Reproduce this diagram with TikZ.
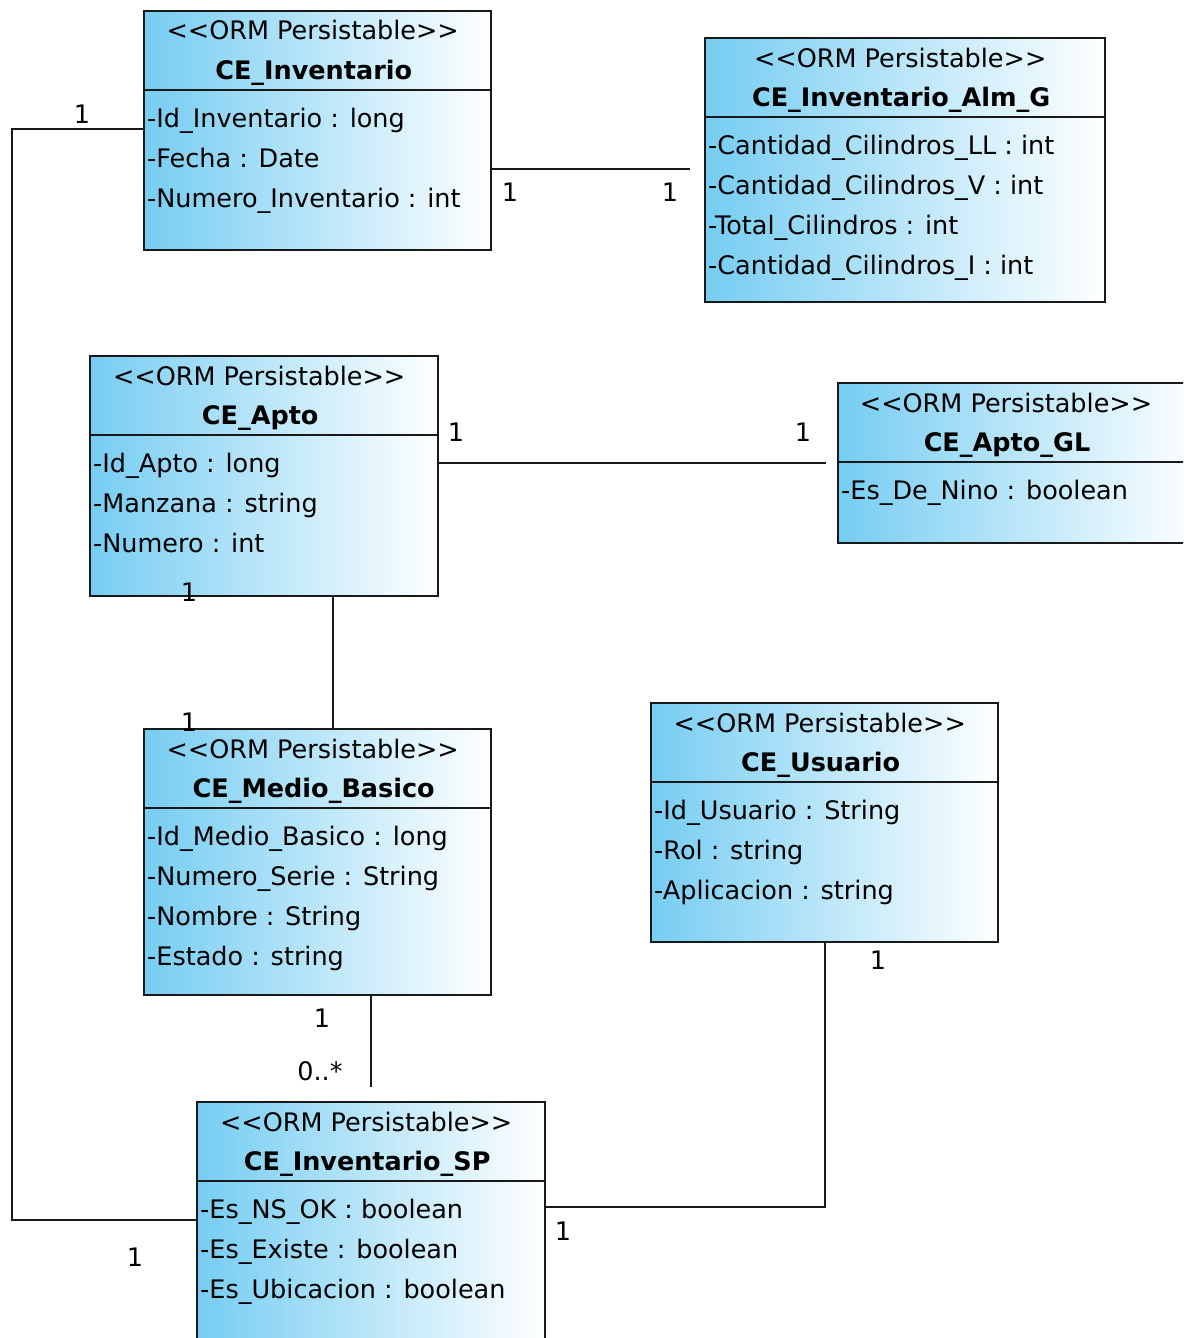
\documentclass[tikz,border=0pt]{standalone}
\usepackage{fontspec}
\setmainfont{DejaVu Sans}
\definecolor{umlblue}{RGB}{118,205,242}
\definecolor{umlline}{RGB}{25,25,25}
\tikzset{
  cls/.style={rectangle, draw=umlline, line width=2.4pt, left color=umlblue, right color=white, inner sep=0pt, anchor=north west},
  divider/.style={draw=umlline, line width=2.4pt},
  stereo/.style={anchor=base, inner sep=0pt},
  cname/.style={anchor=base, inner sep=0pt, font=\fontsize{25.5}{30}\selectfont\bfseries},
  attr/.style={anchor=base west, inner sep=0pt},
  mult/.style={inner sep=0pt},
  assoc/.style={draw=umlline, line width=2.4pt},
}
\newcommand\stereotxt{<{}<ORM Persistable>{}>}
\newcommand\umlclass[7]{%
  \node[cls, minimum width=#4, minimum height=#5] (#1) at (#2,#3) {};
  \draw[divider] ([yshift=-80pt]#1.north west) -- ([yshift=-80pt]#1.north east);
  \node[stereo] (#1-st) at ([xshift=-5pt,yshift=-30pt]#1.north) {\stereotxt};
  \node[cname] (#1-nm) at ([xshift=-4pt,yshift=-69pt]#1.north) {#6};
  \foreach \a [count=\i, evaluate=\i as \yy using 77+40*\i] in {#7}
    \node[attr] (#1-a\i) at ([xshift=4pt,yshift=-\yy pt]#1.north west) {\a};
}
\begin{document}
\begin{tikzpicture}[x=1pt,y=-1pt, every node/.style={font=\fontsize{25.5}{30}\selectfont}]
\path[use as bounding box] (0,0) rectangle (1183,1338);
\clip (0,0) rectangle (1183,1338);

\umlclass{inv}{143}{10}{347pt}{239pt}{CE\_Inventario}{-Id\_Inventario : long, -Fecha : Date, -Numero\_Inventario : int}
\umlclass{alm}{704}{37}{400pt}{264pt}{CE\_Inventario\_Alm\_G}{-Cantidad\_Cilindros\_LL : int, -Cantidad\_Cilindros\_V : int, -Total\_Cilindros : int, -Cantidad\_Cilindros\_I : int}
\umlclass{apto}{89}{355}{348pt}{240pt}{CE\_Apto}{-Id\_Apto : long, -Manzana : string, -Numero : int}
% CE_Apto_GL runs past the right edge of the picture
\node[cls, minimum width=360pt, minimum height=160pt] (gl) at (837,382) {};
\draw[divider] (837,462) -- (1200,462);
\node[stereo] (gl-st) at (1006,412) {\stereotxt};
\node[cname] (gl-nm) at (1007,451) {CE\_Apto\_GL};
\node[attr] (gl-a1) at (841,499) {-Es\_De\_Nino : boolean};
\umlclass{med}{143}{728}{347pt}{266pt}{CE\_Medio\_Basico}{-Id\_Medio\_Basico : long, -Numero\_Serie : String, -Nombre : String, -Estado : string}
\umlclass{usr}{650}{702}{347pt}{239pt}{CE\_Usuario}{-Id\_Usuario : String, -Rol : string, -Aplicacion : string}
\umlclass{sp}{196}{1101}{348pt}{260pt}{CE\_Inventario\_SP}{-Es\_NS\_OK : boolean, -Es\_Existe : boolean, -Es\_Ubicacion : boolean}

% connectors
\coordinate (bendA1) at (12,129);
\coordinate (bendA2) at (12,1220);
\draw[assoc] ([shift={(0,119)}]inv.north west) -- (bendA1) -- (bendA2) -- ([shift={(0,119)}]sp.north west);
\coordinate (invR) at ([shift={(0,159)}]inv.north east);
\draw[assoc] (invR) -- ([xshift=-14pt]alm.west |- invR);
\draw[assoc] (apto.east |- gl.west) -- ([xshift=-11pt]gl.west);
\draw[assoc] ([xshift=69pt]apto.south) -- ([xshift=69pt]apto.south |- med.north);
\draw[assoc] (med.south -| sp.north) -- ([yshift=14pt]sp.north);
\draw[assoc] ([shift={(0,106)}]sp.north east) -| (usr.south);

% multiplicities
\node[mult] (m1) at (82,114) {1};
\node[mult] (m2) at (135,1257) {1};
\node[mult] (m3) at (510,192) {1};
\node[mult] (m4) at (670,192) {1};
\node[mult] (m5) at (456,432) {1};
\node[mult] (m6) at (803,432) {1};
\node[mult] (m7) at (189,592) {1};
\node[mult] (m8) at (189,722) {1};
\node[mult] (m9) at (322,1018) {1};
\node[mult] (m10) at (320,1071) {0..*};
\node[mult] (m11) at (878,960) {1};
\node[mult] (m12) at (563,1231) {1};
\end{tikzpicture}
\end{document}
